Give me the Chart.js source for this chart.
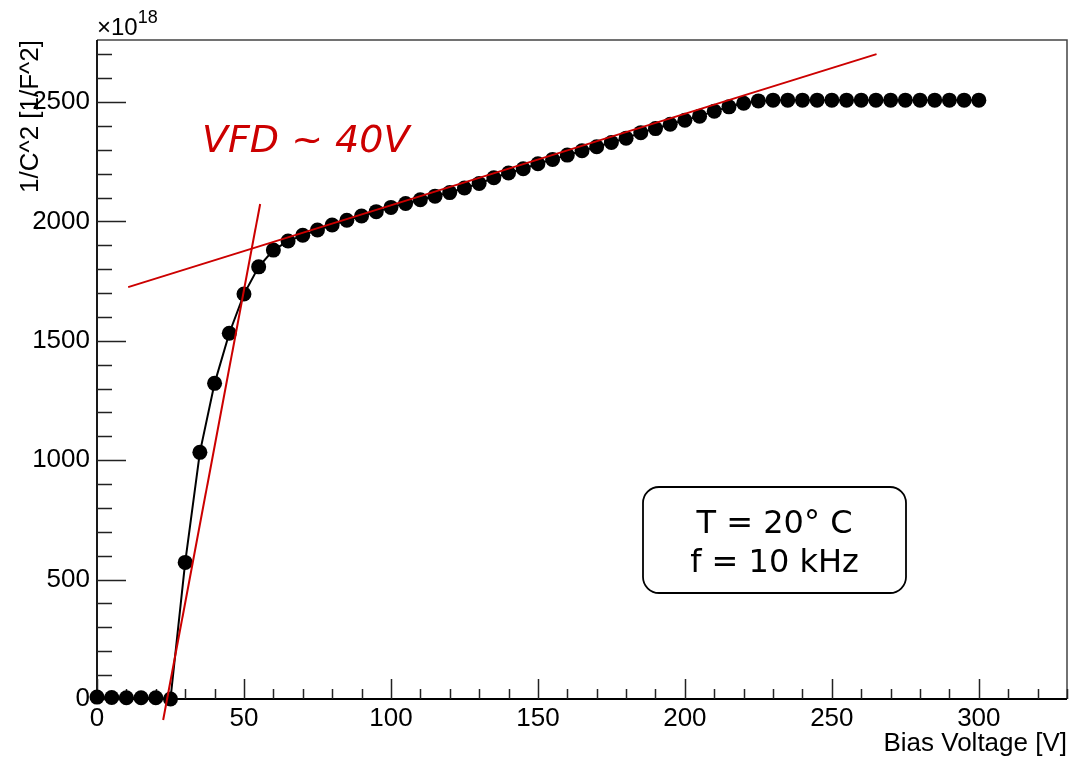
<!DOCTYPE html>
<html>
<head>
<meta charset="utf-8">
<script src="https://cdn.jsdelivr.net/npm/chart.js@4.4.1/dist/chart.umd.min.js"></script>
<style>
  html, body { margin: 0; padding: 0; background: #ffffff; }
  #wrap { width: 1076px; height: 764px; }
</style>
</head>
<body>
<div id="wrap"><canvas id="c" width="1076" height="764"></canvas></div>
<script>
// ---- Data ----
const biasVoltage = [0, 5, 10, 15, 20, 25, 30, 35, 40, 45, 50, 55, 60, 65, 70, 75, 80, 85, 90, 95,
  100, 105, 110, 115, 120, 125, 130, 135, 140, 145, 150, 155, 160, 165, 170, 175, 180, 185, 190, 195,
  200, 205, 210, 215, 220, 225, 230, 235, 240, 245, 250, 255, 260, 265, 270, 275, 280, 285, 290, 295, 300];
// 1/C^2 in units of 1e18 F^-2
const invC2 = [8, 6, 5, 5, 5, 0, 572, 1033, 1322, 1532, 1696, 1810, 1880, 1918, 1942, 1964, 1985, 2005, 2023, 2041,
  2059, 2075, 2091, 2106, 2121, 2140, 2159, 2183, 2203, 2221, 2242, 2260, 2278, 2296, 2313, 2331, 2349, 2372, 2389, 2407,
  2424, 2441, 2462, 2480, 2495, 2505, 2508, 2508, 2508, 2508, 2508, 2508, 2508, 2508, 2508, 2508, 2508, 2508, 2508, 2508, 2508];
// Fit lines (endpoints)
const fitSteepX = [22.5, 55.5];
const fitSteepY = [-88, 2073];
const fitFlatX = [10.6, 265.2];
const fitFlatY = [1725, 2701];
// Axis settings
const xMajorTicks = [0, 50, 100, 150, 200, 250, 300];
const yMajorTicks = [0, 500, 1000, 1500, 2000, 2500];
const xRange = [0, 330];
const yRange = [0, 2760];
const xTitle = 'Bias Voltage [V]';
const yTitle = '1/C^2 [1/F^2]';
const vfdLabel = 'VFD ~ 40V';
const boxLines = ['T = 20\u00B0 C', 'f = 10 kHz'];

const toPts = (xs, ys) => xs.map((x, i) => ({ x: x, y: ys[i] }));

const RED = '#cc0000';
const AXFONT = '"Liberation Sans", Arial, sans-serif';

const rootAxes = {
  id: 'rootAxes',
  beforeDatasetsDraw(chart) {
    const ctx = chart.ctx;
    const a = chart.chartArea;
    const xs = chart.scales.x, ys = chart.scales.y;
    ctx.save();
    // frame top/right
    ctx.strokeStyle = '#444444';
    ctx.lineWidth = 1.5;
    ctx.beginPath();
    ctx.moveTo(a.left, a.top); ctx.lineTo(a.right, a.top); ctx.lineTo(a.right, a.bottom);
    ctx.stroke();
    // axes
    ctx.strokeStyle = '#000000';
    ctx.lineWidth = 1.8;
    ctx.beginPath();
    ctx.moveTo(a.left, a.top); ctx.lineTo(a.left, a.bottom); ctx.lineTo(a.right, a.bottom);
    ctx.stroke();
    // x ticks
    ctx.lineWidth = 1.5;
    ctx.strokeStyle = '#222222';
    ctx.beginPath();
    for (let v = xRange[0]; v <= xRange[1]; v += 10) {
      const px = Math.round(xs.getPixelForValue(v)) + 0.5;
      const len = (v % 50 === 0) ? 20 : 10;
      ctx.moveTo(px, a.bottom); ctx.lineTo(px, a.bottom - len);
    }
    // y ticks
    for (let v = yRange[0]; v <= yRange[1]; v += 100) {
      const py = Math.round(ys.getPixelForValue(v)) + 0.5;
      const len = (v % 500 === 0) ? 29 : 15;
      ctx.moveTo(a.left, py); ctx.lineTo(a.left + len, py);
    }
    ctx.stroke();
    ctx.restore();
  },
  afterDraw(chart) {
    const ctx = chart.ctx;
    const a = chart.chartArea;
    ctx.save();
    ctx.fillStyle = '#000000';
    // x10^18
    ctx.font = '24px ' + AXFONT;
    ctx.textAlign = 'left';
    ctx.textBaseline = 'alphabetic';
    ctx.fillText('\u00D710', a.left, 35);
    const w = ctx.measureText('\u00D710').width;
    ctx.font = '18px ' + AXFONT;
    ctx.fillText('18', a.left + w, 23);
    // x title
    ctx.font = '26px ' + AXFONT;
    ctx.textAlign = 'right';
    ctx.fillText(xTitle, a.right, 751);
    // y title (rotated)
    ctx.save();
    ctx.translate(38, a.top);
    ctx.rotate(-Math.PI / 2);
    ctx.font = '26px ' + AXFONT;
    ctx.textAlign = 'right';
    ctx.fillText(yTitle, 0, 0);
    ctx.restore();
    // VFD label
    ctx.fillStyle = RED;
    ctx.font = 'italic 38px "DejaVu Sans", Verdana, sans-serif';
    ctx.textAlign = 'left';
    ctx.fillText(vfdLabel, 202, 152);
    // box
    const bx = 643, by = 487, bw = 263, bh = 106, r = 16;
    ctx.beginPath();
    ctx.moveTo(bx + r, by);
    ctx.lineTo(bx + bw - r, by); ctx.arcTo(bx + bw, by, bx + bw, by + r, r);
    ctx.lineTo(bx + bw, by + bh - r); ctx.arcTo(bx + bw, by + bh, bx + bw - r, by + bh, r);
    ctx.lineTo(bx + r, by + bh); ctx.arcTo(bx, by + bh, bx, by + bh - r, r);
    ctx.lineTo(bx, by + r); ctx.arcTo(bx, by, bx + r, by, r);
    ctx.closePath();
    ctx.fillStyle = '#ffffff';
    ctx.fill();
    ctx.strokeStyle = '#000000';
    ctx.lineWidth = 1.8;
    ctx.stroke();
    ctx.fillStyle = '#000000';
    ctx.font = '32px "DejaVu Sans", Verdana, sans-serif';
    ctx.textAlign = 'center';
    ctx.fillText(boxLines[0], bx + bw / 2, 533);
    ctx.fillText(boxLines[1], bx + bw / 2, 572);
    ctx.restore();
  }
};

new Chart(document.getElementById('c'), {
  type: 'scatter',
  data: {
    datasets: [
      {
        label: 'data',
        data: toPts(biasVoltage, invC2),
        showLine: true,
        borderColor: '#000000',
        borderWidth: 2,
        backgroundColor: '#000000',
        pointRadius: 7.5,
        pointBorderWidth: 0,
        pointBackgroundColor: '#000000',
        clip: false,
        order: 2
      },
      {
        label: 'fit1',
        data: toPts(fitSteepX, fitSteepY),
        showLine: true,
        borderColor: RED,
        borderWidth: 2,
        pointRadius: 0,
        clip: false,
        order: 1
      },
      {
        label: 'fit2',
        data: toPts(fitFlatX, fitFlatY),
        showLine: true,
        borderColor: RED,
        borderWidth: 2,
        pointRadius: 0,
        clip: false,
        order: 1
      }
    ]
  },
  options: {
    responsive: false,
    devicePixelRatio: 1,
    animation: false,
    events: [],
    layout: { padding: { top: 40, right: 9, left: 0, bottom: 0 } },
    plugins: { legend: { display: false }, tooltip: { enabled: false } },
    scales: {
      x: {
        type: 'linear',
        min: xRange[0], max: xRange[1],
        grid: { display: false, drawTicks: false },
        border: { display: false },
        afterFit: (s) => { s.height = 65; },
        afterBuildTicks: (s) => { s.ticks = xMajorTicks.map(v => ({ value: v })); },
        ticks: { padding: 4, color: '#000000', font: { family: AXFONT, size: 26 }, maxRotation: 0, autoSkip: false, callback: (v) => String(v) }
      },
      y: {
        type: 'linear',
        min: yRange[0], max: yRange[1],
        grid: { display: false, drawTicks: false },
        border: { display: false },
        afterFit: (s) => { s.width = 97; },
        afterBuildTicks: (s) => { s.ticks = yMajorTicks.map(v => ({ value: v })); },
        ticks: { padding: 7, color: '#000000', font: { family: AXFONT, size: 26 }, autoSkip: false, callback: (v) => String(v) }
      }
    }
  },
  plugins: [rootAxes]
});
</script>
</body>
</html>
